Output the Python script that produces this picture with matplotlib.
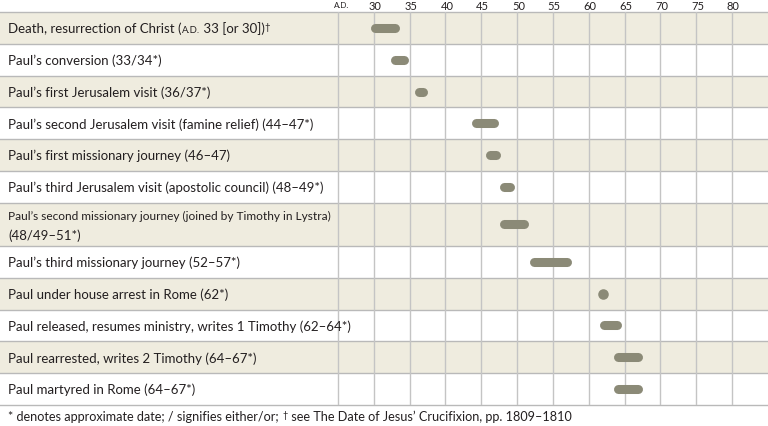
import matplotlib.pyplot as plt

plt.rcParams['font.family'] = ['Lato', 'DejaVu Sans']

# chart data (years)
labels = [
    [("Death, resurrection of Christ (", "n"), ("A.D.", "sc"), (" 33 [or 30])", "n"), ("\u2020", "sup")],
    "Paul\u2019s conversion (33/34*)",
    "Paul\u2019s first Jerusalem visit (36/37*)",
    "Paul\u2019s second Jerusalem visit (famine relief) (44\u201347*)",
    "Paul\u2019s first missionary journey (46\u201347)",
    "Paul\u2019s third Jerusalem visit (apostolic council) (48\u201349*)",
    "Paul\u2019s second missionary journey (joined by Timothy in Lystra)\n(48/49\u201351*)",
    "Paul\u2019s third missionary journey (52\u201357*)",
    "Paul under house arrest in Rome (62*)",
    "Paul released, resumes ministry, writes 1 Timothy (62\u201364*)",
    "Paul rearrested, writes 2 Timothy (64\u201367*)",
    "Paul martyred in Rome (64\u201367*)",
]
starts = [30.1, 33.0, 36.3, 44.2, 46.2, 48.2, 48.2, 52.4, 62.0, 62.1, 64.1, 64.1]
ends = [33.0, 34.2, 36.9, 46.8, 47.0, 49.0, 50.9, 56.9, 62.0, 63.9, 66.9, 66.9]
years = [30, 35, 40, 45, 50, 55, 60, 65, 70, 75, 80]
footnote = [("* denotes approximate date; / signifies either/or; ", "n"), ("\u2020", "sup"),
            (" see The Date of Jesus\u2019 Crucifixion, pp. 1809\u20131810", "n")]

# layout / style
W, H = 768, 427
top_px, bottom_px = 13, 406
sep_px, last_px = 338, 732          # pixel x of year 25 and year 80
row_h = [1.35 if isinstance(l, str) and "\n" in l else 1.0 for l in labels]
shade = '#efecdf'
grid_c = '#c4c4c4'
line_c = '#b9b9b9'
bar_c = '#8b8a77'
text_c = '#231f20'
label_size = 9.5

fig = plt.figure(figsize=(W / 100, H / 100), dpi=100)
ax = fig.add_axes([0, (H - bottom_px) / H, 1, (bottom_px - top_px) / H])
px_year = (last_px - sep_px) / 55.0
ax.set_xlim(25 - sep_px / px_year, 80 + (W - last_px) / px_year)
total = sum(row_h)
ax.set_ylim(total, 0)
ax.axis('off')
unit_px = (bottom_px - top_px) / total

edges = [0]
for h in row_h:
    edges.append(edges[-1] + h)
centers = [(edges[i] + edges[i + 1]) / 2 for i in range(len(row_h))]

# alternating row shading
for i in range(len(row_h)):
    if i % 2 == 0:
        ax.axhspan(edges[i], edges[i + 1], color=shade, lw=0, zorder=0)

for e in edges:
    ax.axhline(e, color=line_c, lw=1, zorder=1, clip_on=False)
for yr in [25] + years:
    ax.axvline(yr, color=grid_c, lw=1, zorder=1)

# bars
for i in range(len(starts)):
    if starts[i] == ends[i]:
        ax.plot(starts[i], centers[i], 'o', color=bar_c, ms=7.6, mew=0, zorder=3)
    else:
        ax.plot([starts[i], ends[i]], [centers[i], centers[i]], color=bar_c, lw=6.5,
                solid_capstyle='round', zorder=3)


def draw_parts(x, y, parts, size, trans):
    base = ax.text(x, y, parts[0][0], transform=trans, fontsize=size, va='center',
                   color=text_c)
    prev = base
    for s, kind in parts[1:]:
        if kind == 'sup':
            prev = ax.annotate(s, xy=(1, 1), xycoords=(prev, base), fontsize=size * 0.72,
                               va='top', xytext=(0.3, 0), textcoords='offset points',
                               color=text_c)
        else:
            fs = size * 0.72 if kind == 'sc' else size
            prev = ax.annotate(s, xy=(1, 0), xycoords=(prev, base), fontsize=fs,
                               va='bottom', color=text_c)


trans = ax.get_yaxis_transform()
for i, lab in enumerate(labels):
    if isinstance(lab, str) and "\n" in lab:
        # long first line squeezed a bit so it stays left of the timeline
        first, second = lab.split("\n")
        ax.text(8 / W, centers[i] - 8.5 / unit_px, first, transform=trans, fontsize=8.6,
                va='center', ha='left', color=text_c)
        ax.text(8 / W, centers[i] + 10.5 / unit_px, second, transform=trans,
                fontsize=label_size, va='center', ha='left', color=text_c)
    elif isinstance(lab, str):
        ax.text(8 / W, centers[i], lab, transform=trans, fontsize=label_size, va='center',
                ha='left', color=text_c)
    else:
        draw_parts(8 / W, centers[i], lab, label_size, trans)

# header
hy = -7 / unit_px
ax.text(25.5, hy, "A.D.", fontsize=5.8, ha='center', va='center', color=text_c)
for yr in years:
    ax.text(yr + 0.2, hy, str(yr), fontsize=8, ha='center', va='center', color=text_c)

# footnote
draw_parts(8 / W, total + 11 / unit_px, footnote, 9.1, trans)

fig.savefig('out.png', dpi=100)
